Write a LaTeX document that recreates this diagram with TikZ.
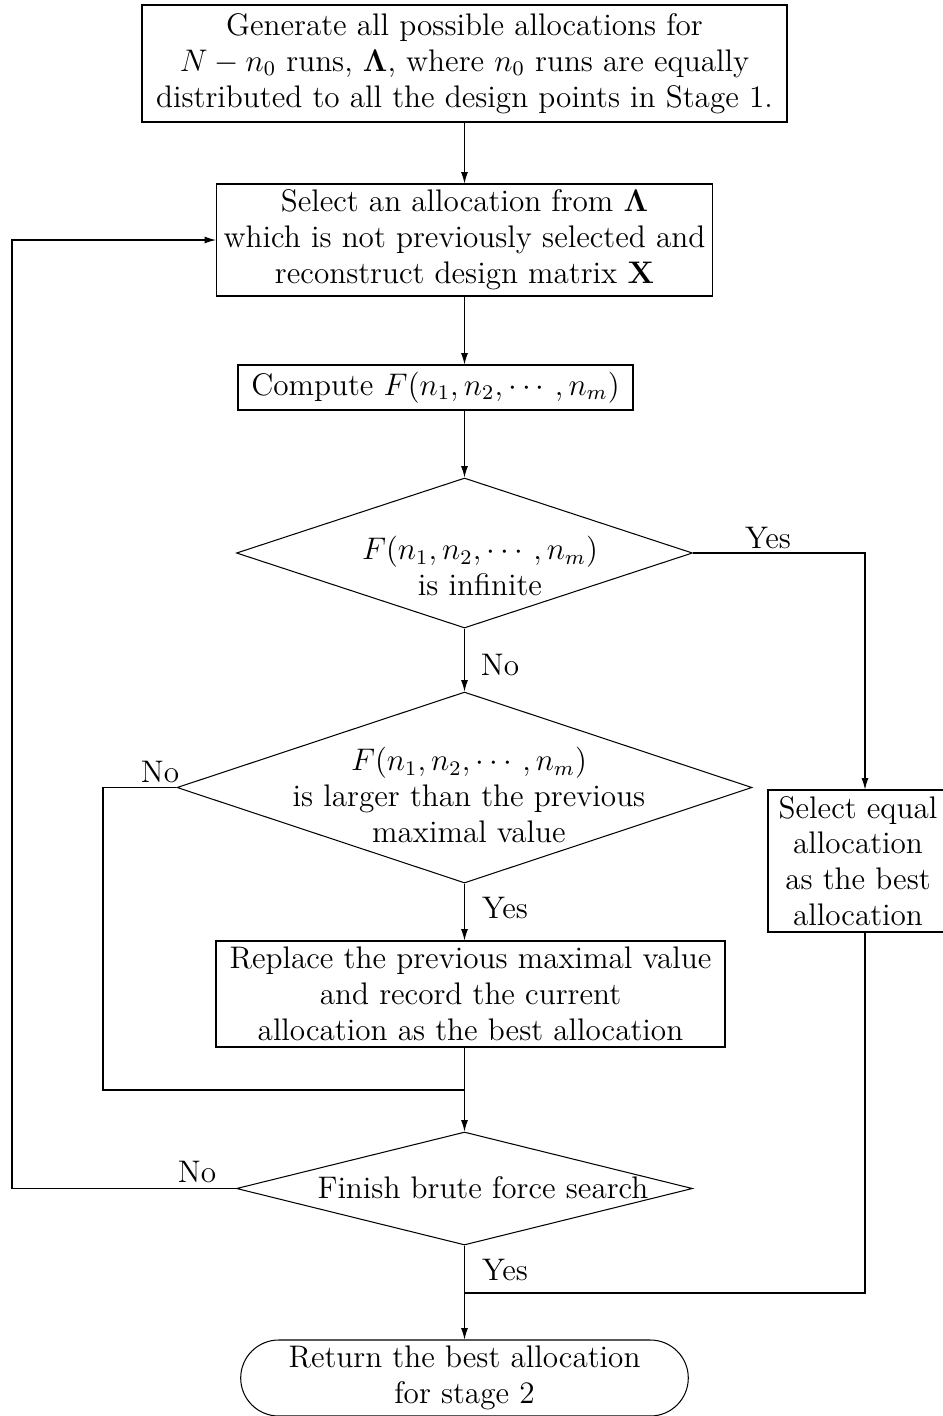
\documentclass[tikz,border=0pt]{standalone}
\usepackage{amsmath}
\usetikzlibrary{shapes.geometric,shapes.misc,arrows.meta}

% one drawing unit in pt
\def\pxu{0.3846pt}

\begin{document}
\begin{tikzpicture}[
    x=0.3846pt, y=-0.3846pt,
    % --- Styles ---
    every node/.style={font=\fontsize{12}{13.8}\selectfont},
    box size/.style 2 args={minimum width=#1*\pxu, minimum height=#2*\pxu},
    process box/.style={draw, rectangle, align=center, inner sep=2pt},
    % diamonds are drawn empty, their text sits on top
    decision/.style={draw, diamond, inner sep=0pt},
    decision text/.style={align=center},
    terminal/.style={draw, rounded rectangle, align=center, inner sep=2pt},
    flow line/.style={draw},
    flow arrow/.style={draw, -{Latex[length=4.4pt,width=2.7pt]}}
]

%================CONFIGURATION================
% \xmain: x of the main column
% \xright: x of the right branch, \xleft / \xloop: x of the return lines
\def\xmain{464.5}
\def\xright{865}
\def\xleft{103}
\def\xloop{12}
%=============================================

\clip (0,0) rectangle (943,1416);

% --- 1. Steps ---
\node[process box, box size={645}{117}] (gen) at (\xmain,63.5)
    {Generate all possible allocations for\\
     $N-n_0$ runs, $\mathbf{\Lambda}$, where $n_0$ runs are equally\\
     distributed to all the design points in Stage 1.};
\node[process box, box size={496}{112}] (sel) at (\xmain,240)
    {Select an allocation from $\mathbf{\Lambda}$\\
     which is not previously selected and\\
     reconstruct design matrix $\mathbf{X}$};
\node[process box, box size={395}{45}] (comp) at (435.5,387.5)
    {Compute $F(n_1,n_2,\cdots,n_m)$};

\node[decision, box size={456}{150}] (inf) at (\xmain,553) {};
\node[decision text] (infT) at (480,566)
    {$F(n_1,n_2,\cdots,n_m)$\\ is infinite};

\node[decision, box size={575}{191}] (big) at (\xmain,787.5) {};
\node[decision text] (bigT) at (469,795)
    {$F(n_1,n_2,\cdots,n_m)$\\ is larger than the previous\\ maximal value};

\node[process box, box size={509}{106}] (rep) at (470.5,994)
    {Replace the previous maximal value\\
     and record the current\\
     allocation as the best allocation};

\node[process box, box size={180}{142}] (eq) at (858,861)
    {Select equal\\ allocation\\ as the best\\ allocation};

\node[decision, box size={456}{113}] (fin) at (\xmain,1188.5) {};
\node[decision text] (finT) at (483,1188) {Finish brute force search};

\node[terminal, box size={458}{76}] (ret) at (\xmain,1378)
    {Return the best allocation\\ for stage 2};

% --- 2. Bends of the side lines ---
\coordinate (yesTurn) at (\xright,553);
\coordinate (noLeft) at (\xleft,787.5);
\coordinate (merge) at (\xmain,1090);
\coordinate (loopLeft) at (\xloop,1188.5);
\coordinate (join) at (\xmain,1293);

% --- 3. Connectors ---
\draw[flow arrow] (gen) -- (sel);
\draw[flow arrow] (sel.south) -- (sel.south |- comp.north);
\draw[flow arrow] (comp.south -| inf.north) -- (inf.north);
\draw[flow arrow] (inf.east) -- (yesTurn) -- (eq.north -| yesTurn);
\draw[flow arrow] (inf.south) -- (big.north);
\draw[flow line] (big.west) -- (noLeft) |- (merge);
\draw[flow arrow] (big.south) -- (big.south |- rep.north);
\draw[flow arrow] (rep.south -| fin.north) -- (fin.north);
\draw[flow arrow] (fin.west) -- (loopLeft) |- (sel.west);
\draw[flow arrow] (fin.south) -- (ret.north);
\draw[flow line] (eq.south -| yesTurn) |- (join);

% --- 4. Branch labels ---
\node (yesInf) at (768,538) {Yes};
\node (noInf) at (500,665) {No};
\node (noBig) at (160,772) {No};
\node (yesBig) at (505,908) {Yes};
\node (noFin) at (197,1172) {No};
\node (yesFin) at (505,1270) {Yes};

\end{tikzpicture}
\end{document}
